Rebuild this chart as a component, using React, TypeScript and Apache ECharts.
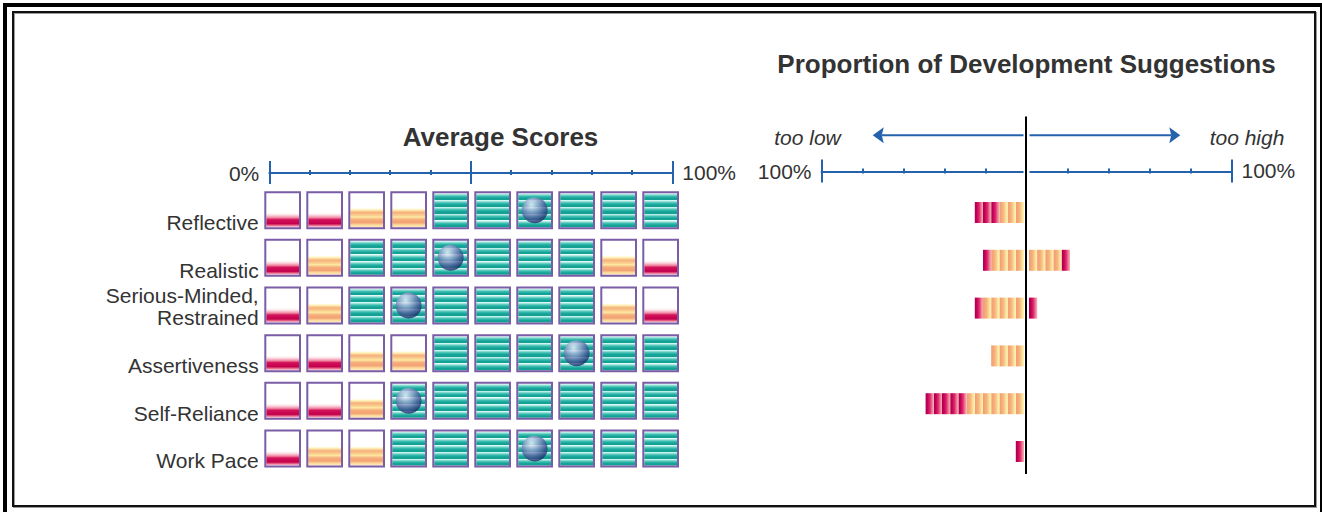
import React, { useEffect, useRef } from "react";
import * as echarts from "echarts";

// ---------------- data ----------------
const rowLabels = [
  "Reflective",
  "Realistic",
  "Serious-Minded,\nRestrained",
  "Assertiveness",
  "Self-Reliance",
  "Work Pace",
];
// 0 = low zone (red), 1 = borderline zone (orange), 2 = target zone (teal)
const cellBands = [
  [0, 0, 1, 1, 2, 2, 2, 2, 2, 2],
  [0, 1, 2, 2, 2, 2, 2, 2, 1, 0],
  [0, 1, 2, 2, 2, 2, 2, 2, 1, 0],
  [0, 0, 1, 1, 2, 2, 2, 2, 2, 2],
  [0, 0, 1, 2, 2, 2, 2, 2, 2, 2],
  [0, 1, 1, 2, 2, 2, 2, 2, 2, 2],
];
const averageScores = [65, 45, 35, 75, 35, 65];
const tooLowStrong = [12, 4, 4, 0, 20, 4];
const tooLowMild = [12, 16, 20, 16, 28, 0];
const tooHighMild = [0, 16, 0, 0, 0, 0];
const tooHighStrong = [0, 4, 4, 0, 0, 0];
const scoreScaleLabels = ["0%", "100%"];
const suggestionScaleLabels = ["100%", "100%"];
const directionLabels = ["too low", "too high"];
const chartTitles = ["Average Scores", "Proportion of Development Suggestions"];

// ---------------- layout / style ----------------
const FONT = "'Liberation Sans', Arial, Helvetica, sans-serif";
const TEXT = "#333333";
const BLUE = "#2462ae";
const LEFT_SCALE = { left: 269.3, top: 172, width: 403 };
const CELLS = { left: 261.65, top: 186.3, width: 420, height: 286 };
const LABEL_SHIFT = 23.5;
const RIGHT_SCALE = { left: 821.5, top: 170.5, width: 410 };
const BARS = { top: 188.6, height: 286.8 };
const CENTER_X = RIGHT_SCALE.left + RIGHT_SCALE.width / 2;
const PX_PER_PCT = RIGHT_SCALE.width / 200;
const SEGMENT = 4; // width of one texture segment, in %
const BAR_GAP = 2.5;
const BAR_H = 21;
const CELL_W = 36.7;
const CELL_H = 38;
const ARROW_Y = 135.3;
const ARROW_REACH = 75;

const vgrad = (stops: [number, string][]) => ({
  type: "linear",
  x: 0,
  y: 0,
  x2: 0,
  y2: 1,
  colorStops: stops.map(([offset, color]) => ({ offset, color })),
});
const hgrad = (stops: [number, string][]) => ({
  type: "linear",
  x: 0,
  y: 0,
  x2: 1,
  y2: 0,
  colorStops: stops.map(([offset, color]) => ({ offset, color })),
});

const tealPattern: [number, string][] = [
  [0, "#f0fffc"],
  [0.18, "#a9e9e1"],
  [0.45, "#3dbdb0"],
  [0.75, "#0fa295"],
  [0.999, "#18a094"],
];
const tealStops: [number, string][] = [];
for (let i = 0; i < 5; i++) {
  for (const [o, c] of tealPattern) tealStops.push([(i + o) / 5, c]);
}

const cellFills = [
  vgrad([
    [0, "#ffffff"],
    [0.58, "#ffffff"],
    [0.64, "#fbe0e6"],
    [0.72, "#f28aa4"],
    [0.78, "#d2125a"],
    [0.9, "#c4004c"],
    [0.95, "#e86a8c"],
    [1, "#fbd8e2"],
  ]),
  vgrad([
    [0, "#ffffff"],
    [0.44, "#ffffff"],
    [0.49, "#fff3b8"],
    [0.57, "#f6b07c"],
    [0.65, "#f9cd8e"],
    [0.7, "#fde9a0"],
    [0.78, "#f5ad7c"],
    [0.87, "#f3a274"],
    [0.93, "#fbd898"],
    [1, "#fdebc0"],
  ]),
  vgrad(tealStops),
];

const mildSeg = hgrad([
  [0, "#f29a70"],
  [0.45, "#f5b47e"],
  [0.8, "#fde39a"],
  [1, "#fff4b4"],
]);
const strongSeg = hgrad([
  [0, "#a8004a"],
  [0.25, "#c8005a"],
  [0.55, "#de2d6c"],
  [0.8, "#ee8096"],
  [1, "#f5b0b6"],
]);

const scaleAxis = (
  gridIndex: number,
  min: number,
  max: number,
  interval: number,
  up: boolean,
  name: string,
  loc: string
) => ({
  type: "value",
  gridIndex,
  position: "top",
  min,
  max,
  interval,
  axisLine: { show: up, lineStyle: { color: BLUE, width: 2 } },
  axisTick: { show: true, inside: !up, length: 12, lineStyle: { color: BLUE, width: 2 } },
  minorTick: { show: true, splitNumber: 5, length: 3, lineStyle: { color: BLUE, width: 2 } },
  axisLabel: { show: false },
  splitLine: { show: false },
  minorSplitLine: { show: false },
  name,
  nameLocation: loc,
  nameGap: 10,
  nameTextStyle: { fontSize: 21, color: TEXT, fontFamily: FONT, padding: [2, 0, 0, 0] },
});

const cellData: number[][] = [];
cellBands.forEach((row, r) => row.forEach((kind, c) => cellData.push([c, r, kind])));

const barData = rowLabels.map((_, i) => [
  i,
  tooLowStrong[i],
  tooLowMild[i],
  tooHighMild[i],
  tooHighStrong[i],
]);

function buildOption() {
  const leftTip = CENTER_X - ARROW_REACH * PX_PER_PCT;
  const rightTip = CENTER_X + ARROW_REACH * PX_PER_PCT;
  return {
    animation: false,
    textStyle: { fontFamily: FONT },
    grid: [
      { left: LEFT_SCALE.left, top: LEFT_SCALE.top, width: LEFT_SCALE.width, height: 1 },
      { left: CELLS.left, top: CELLS.top, width: CELLS.width, height: CELLS.height },
      { left: CELLS.left, top: CELLS.top + LABEL_SHIFT, width: CELLS.width, height: CELLS.height },
      { left: RIGHT_SCALE.left, top: RIGHT_SCALE.top, width: RIGHT_SCALE.width, height: 1 },
      { left: RIGHT_SCALE.left, top: BARS.top, width: RIGHT_SCALE.width, height: BARS.height },
    ],
    xAxis: [
      scaleAxis(0, 0, 100, 50, true, scoreScaleLabels[0], "start"),
      scaleAxis(0, 0, 100, 50, false, scoreScaleLabels[1], "end"),
      { type: "value", gridIndex: 1, min: 0, max: 100, show: false },
      { type: "value", gridIndex: 2, min: 0, max: 100, show: false },
      scaleAxis(3, -100, 100, 100, true, suggestionScaleLabels[0], "start"),
      scaleAxis(3, -100, 100, 100, false, suggestionScaleLabels[1], "end"),
      { type: "value", gridIndex: 4, min: -100, max: 100, show: false },
    ],
    yAxis: [
      { type: "value", gridIndex: 0, show: false },
      { type: "category", gridIndex: 1, data: rowLabels, inverse: true, show: false },
      {
        type: "category",
        gridIndex: 2,
        data: rowLabels,
        inverse: true,
        axisLine: { show: false },
        axisTick: { show: false },
        splitLine: { show: false },
        axisLabel: {
          interval: 0,
          fontSize: 21,
          lineHeight: 22,
          color: TEXT,
          fontFamily: FONT,
          verticalAlign: "bottom",
          margin: 3,
        },
      },
      { type: "value", gridIndex: 3, show: false },
      { type: "category", gridIndex: 4, data: rowLabels, inverse: true, show: false },
    ],
    series: [
      {
        type: "custom",
        xAxisIndex: 2,
        yAxisIndex: 1,
        data: cellData,
        renderItem: (params: any, api: any) => {
          const col = api.value(0);
          const row = api.value(1);
          const kind = api.value(2);
          const a = api.coord([col * 10, row]);
          const b = api.coord([(col + 1) * 10, row]);
          const cx = (a[0] + b[0]) / 2;
          const x = cx - CELL_W / 2;
          const y = a[1] - CELL_H / 2;
          return {
            type: "group",
            children: [
              {
                type: "rect",
                shape: { x: x + 2, y: y + 2, width: CELL_W - 4, height: CELL_H - 4 },
                style: { fill: cellFills[kind] },
              },
              {
                type: "rect",
                shape: { x: x + 1, y: y + 1, width: CELL_W - 2, height: CELL_H - 2 },
                style: { fill: "none", stroke: "#7b5ca6", lineWidth: 2 },
              },
            ],
          };
        },
        z: 2,
      },
      {
        type: "scatter",
        xAxisIndex: 2,
        yAxisIndex: 1,
        data: averageScores.map((v, i) => [v, i]),
        symbol: "circle",
        symbolSize: 26,
        itemStyle: {
          color: {
            type: "radial",
            x: 0.38,
            y: 0.3,
            r: 0.72,
            colorStops: [
              { offset: 0, color: "#f7f9ff" },
              { offset: 0.28, color: "#b0bade" },
              { offset: 0.68, color: "#52629f" },
              { offset: 1, color: "#1b2767" },
            ],
          },
        },
        z: 5,
      },
      {
        type: "custom",
        xAxisIndex: 6,
        yAxisIndex: 4,
        data: barData,
        renderItem: (params: any, api: any) => {
          const row = api.value(0);
          const parts: [number, number, any, number][] = [
            [-1, api.value(2), mildSeg, 0],
            [-1, api.value(1), strongSeg, api.value(2)],
            [1, api.value(3), mildSeg, 0],
            [1, api.value(4), strongSeg, api.value(3)],
          ];
          const children: any[] = [];
          for (const [dir, amount, fill, offset] of parts) {
            const end = offset + amount;
            for (let s = offset; s < end - 1e-6; s += SEGMENT) {
              const e = Math.min(s + SEGMENT, end);
              const p1 = api.coord([dir * s, row]);
              const p2 = api.coord([dir * e, row]);
              const x1 = Math.min(p1[0], p2[0]) + dir * BAR_GAP;
              const x2 = Math.max(p1[0], p2[0]) + dir * BAR_GAP;
              children.push({
                type: "rect",
                shape: { x: x1, y: p1[1] - BAR_H / 2, width: x2 - x1, height: BAR_H },
                style: { fill },
              });
            }
          }
          return { type: "group", children };
        },
        z: 2,
      },
    ],
    graphic: [
      // frame
      {
        type: "rect",
        shape: { x: 5, y: 5, width: 1317, height: 509 },
        style: { fill: "none", stroke: "#000", lineWidth: 4 },
        z: 1,
      },
      {
        type: "rect",
        shape: { x: 14, y: 13, width: 1302, height: 494 },
        style: { fill: "none", stroke: "#9a9a9a", lineWidth: 2 },
        z: 1,
      },
      {
        type: "rect",
        shape: { x: 13, y: 12, width: 1302, height: 494 },
        style: { fill: "none", stroke: "#111", lineWidth: 2 },
        z: 1,
      },
      // titles
      {
        type: "text",
        x: 500.5,
        y: 137,
        style: {
          text: chartTitles[0],
          fontSize: 26,
          fontWeight: "bold",
          fontFamily: FONT,
          fill: TEXT,
          align: "center",
          verticalAlign: "middle",
        },
        z: 10,
      },
      {
        type: "text",
        x: 1026.5,
        y: 64,
        style: {
          text: chartTitles[1],
          fontSize: 26,
          fontWeight: "bold",
          fontFamily: FONT,
          fill: TEXT,
          align: "center",
          verticalAlign: "middle",
        },
        z: 10,
      },
      // direction labels
      {
        type: "text",
        x: 807.5,
        y: 137.5,
        style: {
          text: directionLabels[0],
          fontSize: 21,
          fontStyle: "italic",
          fontFamily: FONT,
          fill: TEXT,
          align: "center",
          verticalAlign: "middle",
        },
        z: 10,
      },
      {
        type: "text",
        x: 1247,
        y: 137.5,
        style: {
          text: directionLabels[1],
          fontSize: 21,
          fontStyle: "italic",
          fontFamily: FONT,
          fill: TEXT,
          align: "center",
          verticalAlign: "middle",
        },
        z: 10,
      },
      // arrows
      {
        type: "line",
        shape: { x1: leftTip + 9, y1: ARROW_Y, x2: CENTER_X - 3, y2: ARROW_Y },
        style: { stroke: BLUE, lineWidth: 2 },
        z: 10,
      },
      {
        type: "polygon",
        shape: {
          points: [
            [leftTip, ARROW_Y],
            [leftTip + 11, ARROW_Y - 8],
            [leftTip + 9, ARROW_Y],
            [leftTip + 11, ARROW_Y + 8],
          ],
        },
        style: { fill: BLUE },
        z: 10,
      },
      {
        type: "line",
        shape: { x1: CENTER_X + 3, y1: ARROW_Y, x2: rightTip - 9, y2: ARROW_Y },
        style: { stroke: BLUE, lineWidth: 2 },
        z: 10,
      },
      {
        type: "polygon",
        shape: {
          points: [
            [rightTip, ARROW_Y],
            [rightTip - 11, ARROW_Y - 8],
            [rightTip - 9, ARROW_Y],
            [rightTip - 11, ARROW_Y + 8],
          ],
        },
        style: { fill: BLUE },
        z: 10,
      },
      // gap around the centre line on the scale
      {
        type: "rect",
        shape: { x: CENTER_X - 3, y: 155, width: 6, height: 30 },
        style: { fill: "#ffffff" },
        z: 20,
      },
      // centre line
      {
        type: "line",
        shape: { x1: CENTER_X - 0.5, y1: 116.5, x2: CENTER_X - 0.5, y2: 474 },
        style: { stroke: "#000", lineWidth: 2 },
        z: 21,
      },
    ],
  };
}

export default function App() {
  const ref = useRef<HTMLDivElement>(null);
  useEffect(() => {
    if (!ref.current) return;
    const chart = echarts.init(ref.current, undefined, { renderer: "svg" });
    chart.setOption(buildOption() as any);
    return () => chart.dispose();
  }, []);
  return (
    <div
      ref={ref}
      style={{ position: "fixed", left: 0, top: 0, width: 1322, height: 512, background: "#fff" }}
    />
  );
}
